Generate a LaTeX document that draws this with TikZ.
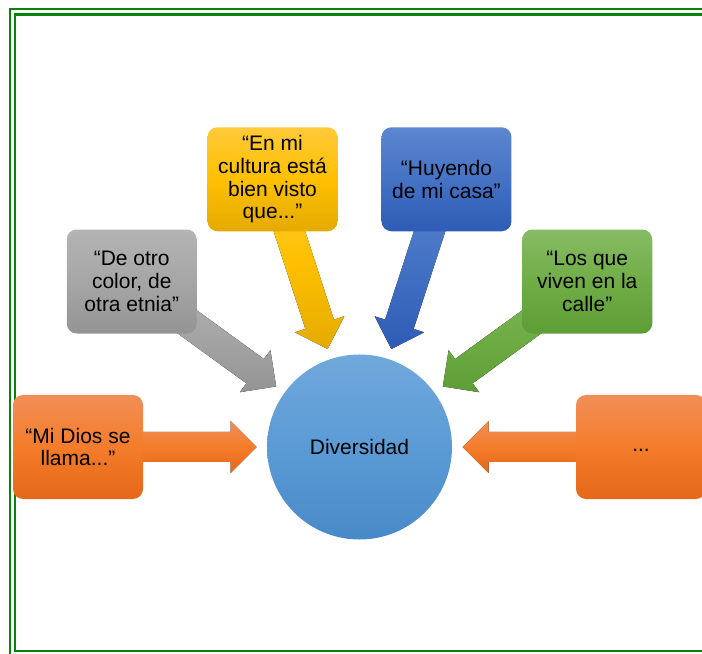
\documentclass[tikz,border=0pt]{standalone}
\usepackage{fontspec}
\setmainfont{Liberation Sans}
\usetikzlibrary{backgrounds}
\definecolor{frameg}{RGB}{10,130,10}
\begin{document}
\begin{tikzpicture}[x=0.75pt,y=0.75pt,
  txt/.style={font=\fontsize{15.75}{17}\selectfont, text=black, align=center},
  box/.style={txt, rounded corners=7.5pt, minimum width=97.5pt, minimum height=78pt, inner sep=2pt},
  orangef/.style={top color={rgb,255:red,241;green,143;blue,88}, bottom color={rgb,255:red,228;green,104;blue,26}, middle color={rgb,255:red,244;green,124;blue,42}},
  grayf/.style={top color={rgb,255:red,180;green,180;blue,180}, bottom color={rgb,255:red,148;green,148;blue,148}, middle color={rgb,255:red,166;green,166;blue,166}},
  yellowf/.style={top color={rgb,255:red,255;green,202;blue,58}, bottom color={rgb,255:red,228;green,170;blue,0}, middle color={rgb,255:red,255;green,192;blue,0}},
  bluef/.style={top color={rgb,255:red,92;green,134;blue,208}, bottom color={rgb,255:red,46;green,92;blue,182}, middle color={rgb,255:red,68;green,114;blue,196}},
  greenf/.style={top color={rgb,255:red,134;green,187;blue,100}, bottom color={rgb,255:red,94;green,158;blue,54}, middle color={rgb,255:red,112;green,173;blue,71}},
  hubf/.style={top color={rgb,255:red,112;green,168;blue,220}, bottom color={rgb,255:red,72;green,138;blue,200}, middle color={rgb,255:red,91;green,155;blue,213}},
  frame/.style={draw=frameg, line width=1.6pt}]
\useasboundingbox (0,0) rectangle (702,653);
\clip (0,0) rectangle (702,653);
% double frame
\draw[frame] (10,-20) rectangle (730,644);
\draw[frame] (15,2) rectangle (725,638.5);
% hub
\node[txt, circle, hubf, minimum size=138.75pt, inner sep=0pt] (hub) at (359.5,206) {Diversidad};
% boxes
\node[box, orangef] (left) at ([shift={(180:281.5)}]hub.center) {“Mi Dios se\\llama...”};
\node[box, grayf] (gris) at ([shift={(144:281.5)}]hub.center) {“De otro\\color, de\\otra etnia”};
\node[box, yellowf] (amar) at ([shift={(108:281.5)}]hub.center) {“En mi\\cultura está\\bien visto\\que...”};
\node[box, bluef] (azul) at ([shift={(72:281.5)}]hub.center) {“Huyendo\\de mi casa”};
\node[box, greenf] (verde) at ([shift={(36:281.5)}]hub.center) {“Los que\\viven en la\\calle”};
\node[box, orangef] (right) at ([shift={(0:281.5)}]hub.center) {\strut...};
% block arrows
\begin{scope}[on background layer]
\foreach \ang/\sty in {180/orangef,144/grayf,108/yellowf,72/bluef,36/greenf,0/orangef}{
  \begin{scope}[shift={(hub.center)}, rotate=\ang]
    \fill[\sty] (103,0) -- (129,26) -- (129,15) -- (281.5,15) -- (281.5,-15) -- (129,-15) -- (129,-26) -- cycle;
  \end{scope}
}
\end{scope}
\end{tikzpicture}
\end{document}
